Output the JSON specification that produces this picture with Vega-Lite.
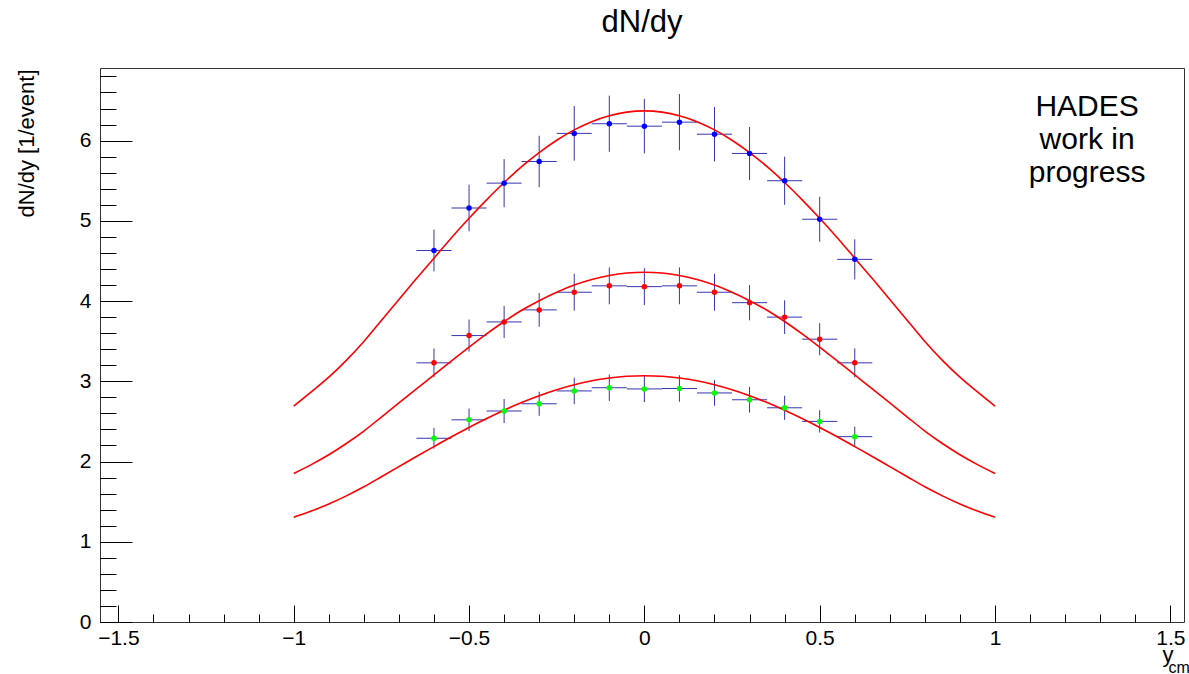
{
  "$schema": "https://vega.github.io/schema/vega-lite/v6.json",
  "width": 1084,
  "height": 554,
  "autosize": "none",
  "padding": {"left": 100, "top": 68, "right": 5, "bottom": 52},
  "background": "white",
  "config": {
    "view": {"stroke": "#333", "strokeWidth": 1},
    "axis": {"grid": false, "domain": false, "labelFont": "Liberation Sans", "titleFont": "Liberation Sans", "labelColor": "black", "titleColor": "black", "tickColor": "black", "tickWidth": 1, "titleFontWeight": "normal", "labelFlush": false, "labelOverlap": false}
  },
  "title": {"text": "dN/dy", "fontSize": 31, "font": "Liberation Sans", "fontWeight": "normal", "color": "black", "offset": 5, "frame": "group", "anchor": "middle", "baseline": "alphabetic"},
  "datasets": {
    "pts": [
      {"s": "blue", "x": -0.6, "y": 4.63, "lo": 4.37, "hi": 4.89, "xl": -0.65, "xh": -0.55},
      {"s": "blue", "x": -0.5, "y": 5.16, "lo": 4.87, "hi": 5.45, "xl": -0.55, "xh": -0.45},
      {"s": "blue", "x": -0.4, "y": 5.47, "lo": 5.17, "hi": 5.77, "xl": -0.45, "xh": -0.35},
      {"s": "blue", "x": -0.3, "y": 5.74, "lo": 5.42, "hi": 6.06, "xl": -0.35, "xh": -0.25},
      {"s": "blue", "x": -0.2, "y": 6.09, "lo": 5.75, "hi": 6.43, "xl": -0.25, "xh": -0.15},
      {"s": "blue", "x": -0.1, "y": 6.21, "lo": 5.86, "hi": 6.56, "xl": -0.15, "xh": -0.05},
      {"s": "blue", "x": 0.0, "y": 6.18, "lo": 5.84, "hi": 6.52, "xl": -0.05, "xh": 0.05},
      {"s": "blue", "x": 0.1, "y": 6.23, "lo": 5.88, "hi": 6.58, "xl": 0.05, "xh": 0.15},
      {"s": "blue", "x": 0.2, "y": 6.08, "lo": 5.74, "hi": 6.42, "xl": 0.15, "xh": 0.25},
      {"s": "blue", "x": 0.3, "y": 5.84, "lo": 5.51, "hi": 6.17, "xl": 0.25, "xh": 0.35},
      {"s": "blue", "x": 0.4, "y": 5.5, "lo": 5.2, "hi": 5.8, "xl": 0.35, "xh": 0.45},
      {"s": "blue", "x": 0.5, "y": 5.02, "lo": 4.74, "hi": 5.3, "xl": 0.45, "xh": 0.55},
      {"s": "blue", "x": 0.6, "y": 4.52, "lo": 4.27, "hi": 4.77, "xl": 0.55, "xh": 0.65},
      {"s": "red", "x": -0.6, "y": 3.23, "lo": 3.05, "hi": 3.41, "xl": -0.65, "xh": -0.55},
      {"s": "red", "x": -0.5, "y": 3.57, "lo": 3.37, "hi": 3.77, "xl": -0.55, "xh": -0.45},
      {"s": "red", "x": -0.4, "y": 3.74, "lo": 3.54, "hi": 3.94, "xl": -0.45, "xh": -0.35},
      {"s": "red", "x": -0.3, "y": 3.89, "lo": 3.68, "hi": 4.1, "xl": -0.35, "xh": -0.25},
      {"s": "red", "x": -0.2, "y": 4.11, "lo": 3.88, "hi": 4.34, "xl": -0.25, "xh": -0.15},
      {"s": "red", "x": -0.1, "y": 4.19, "lo": 3.96, "hi": 4.42, "xl": -0.15, "xh": -0.05},
      {"s": "red", "x": 0.0, "y": 4.18, "lo": 3.95, "hi": 4.41, "xl": -0.05, "xh": 0.05},
      {"s": "red", "x": 0.1, "y": 4.19, "lo": 3.96, "hi": 4.42, "xl": 0.05, "xh": 0.15},
      {"s": "red", "x": 0.2, "y": 4.11, "lo": 3.88, "hi": 4.34, "xl": 0.15, "xh": 0.25},
      {"s": "red", "x": 0.3, "y": 3.98, "lo": 3.76, "hi": 4.2, "xl": 0.25, "xh": 0.35},
      {"s": "red", "x": 0.4, "y": 3.8, "lo": 3.59, "hi": 4.01, "xl": 0.35, "xh": 0.45},
      {"s": "red", "x": 0.5, "y": 3.525, "lo": 3.325, "hi": 3.725, "xl": 0.45, "xh": 0.55},
      {"s": "red", "x": 0.6, "y": 3.23, "lo": 3.05, "hi": 3.41, "xl": 0.55, "xh": 0.65},
      {"s": "green", "x": -0.6, "y": 2.29, "lo": 2.16, "hi": 2.42, "xl": -0.65, "xh": -0.55},
      {"s": "green", "x": -0.5, "y": 2.52, "lo": 2.38, "hi": 2.66, "xl": -0.55, "xh": -0.45},
      {"s": "green", "x": -0.4, "y": 2.63, "lo": 2.48, "hi": 2.78, "xl": -0.45, "xh": -0.35},
      {"s": "green", "x": -0.3, "y": 2.72, "lo": 2.57, "hi": 2.87, "xl": -0.35, "xh": -0.25},
      {"s": "green", "x": -0.2, "y": 2.88, "lo": 2.715, "hi": 3.045, "xl": -0.25, "xh": -0.15},
      {"s": "green", "x": -0.1, "y": 2.92, "lo": 2.755, "hi": 3.085, "xl": -0.15, "xh": -0.05},
      {"s": "green", "x": 0.0, "y": 2.905, "lo": 2.74, "hi": 3.07, "xl": -0.05, "xh": 0.05},
      {"s": "green", "x": 0.1, "y": 2.91, "lo": 2.745, "hi": 3.075, "xl": 0.05, "xh": 0.15},
      {"s": "green", "x": 0.2, "y": 2.855, "lo": 2.695, "hi": 3.015, "xl": 0.15, "xh": 0.25},
      {"s": "green", "x": 0.3, "y": 2.77, "lo": 2.61, "hi": 2.93, "xl": 0.25, "xh": 0.35},
      {"s": "green", "x": 0.4, "y": 2.67, "lo": 2.52, "hi": 2.82, "xl": 0.35, "xh": 0.45},
      {"s": "green", "x": 0.5, "y": 2.5, "lo": 2.36, "hi": 2.64, "xl": 0.45, "xh": 0.55},
      {"s": "green", "x": 0.6, "y": 2.31, "lo": 2.185, "hi": 2.435, "xl": 0.55, "xh": 0.65}
    ],
    "fit": [
      {"c": "t", "x": -1.0, "y": 2.69}, {"c": "t", "x": -0.95, "y": 2.867}, {"c": "t", "x": -0.9, "y": 3.051}, {"c": "t", "x": -0.85, "y": 3.261}, {"c": "t", "x": -0.8, "y": 3.497}, {"c": "t", "x": -0.75, "y": 3.758}, {"c": "t", "x": -0.7, "y": 4.019}, {"c": "t", "x": -0.65, "y": 4.281}, {"c": "t", "x": -0.6, "y": 4.535}, {"c": "t", "x": -0.55, "y": 4.79}, {"c": "t", "x": -0.5, "y": 5.032}, {"c": "t", "x": -0.45, "y": 5.262}, {"c": "t", "x": -0.4, "y": 5.478}, {"c": "t", "x": -0.35, "y": 5.676}, {"c": "t", "x": -0.3, "y": 5.851}, {"c": "t", "x": -0.25, "y": 6.005}, {"c": "t", "x": -0.2, "y": 6.134}, {"c": "t", "x": -0.15, "y": 6.236}, {"c": "t", "x": -0.1, "y": 6.31}, {"c": "t", "x": -0.05, "y": 6.355}, {"c": "t", "x": 0.0, "y": 6.37},
      {"c": "t", "x": 0.05, "y": 6.355}, {"c": "t", "x": 0.1, "y": 6.31}, {"c": "t", "x": 0.15, "y": 6.236}, {"c": "t", "x": 0.2, "y": 6.134}, {"c": "t", "x": 0.25, "y": 6.005}, {"c": "t", "x": 0.3, "y": 5.851}, {"c": "t", "x": 0.35, "y": 5.676}, {"c": "t", "x": 0.4, "y": 5.478}, {"c": "t", "x": 0.45, "y": 5.262}, {"c": "t", "x": 0.5, "y": 5.032}, {"c": "t", "x": 0.55, "y": 4.79}, {"c": "t", "x": 0.6, "y": 4.535}, {"c": "t", "x": 0.65, "y": 4.281}, {"c": "t", "x": 0.7, "y": 4.019}, {"c": "t", "x": 0.75, "y": 3.758}, {"c": "t", "x": 0.8, "y": 3.497}, {"c": "t", "x": 0.85, "y": 3.261}, {"c": "t", "x": 0.9, "y": 3.051}, {"c": "t", "x": 0.95, "y": 2.867}, {"c": "t", "x": 1.0, "y": 2.69},
      {"c": "m", "x": -1.0, "y": 1.852}, {"c": "m", "x": -0.95, "y": 1.962}, {"c": "m", "x": -0.9, "y": 2.085}, {"c": "m", "x": -0.85, "y": 2.225}, {"c": "m", "x": -0.8, "y": 2.38}, {"c": "m", "x": -0.75, "y": 2.555}, {"c": "m", "x": -0.7, "y": 2.73}, {"c": "m", "x": -0.65, "y": 2.905}, {"c": "m", "x": -0.6, "y": 3.08}, {"c": "m", "x": -0.55, "y": 3.255}, {"c": "m", "x": -0.5, "y": 3.425}, {"c": "m", "x": -0.45, "y": 3.59}, {"c": "m", "x": -0.4, "y": 3.745}, {"c": "m", "x": -0.35, "y": 3.885}, {"c": "m", "x": -0.3, "y": 4.005}, {"c": "m", "x": -0.25, "y": 4.11}, {"c": "m", "x": -0.2, "y": 4.199}, {"c": "m", "x": -0.15, "y": 4.268}, {"c": "m", "x": -0.1, "y": 4.319}, {"c": "m", "x": -0.05, "y": 4.35}, {"c": "m", "x": 0.0, "y": 4.36},
      {"c": "m", "x": 0.05, "y": 4.35}, {"c": "m", "x": 0.1, "y": 4.319}, {"c": "m", "x": 0.15, "y": 4.268}, {"c": "m", "x": 0.2, "y": 4.199}, {"c": "m", "x": 0.25, "y": 4.11}, {"c": "m", "x": 0.3, "y": 4.005}, {"c": "m", "x": 0.35, "y": 3.885}, {"c": "m", "x": 0.4, "y": 3.745}, {"c": "m", "x": 0.45, "y": 3.59}, {"c": "m", "x": 0.5, "y": 3.425}, {"c": "m", "x": 0.55, "y": 3.255}, {"c": "m", "x": 0.6, "y": 3.08}, {"c": "m", "x": 0.65, "y": 2.905}, {"c": "m", "x": 0.7, "y": 2.73}, {"c": "m", "x": 0.75, "y": 2.555}, {"c": "m", "x": 0.8, "y": 2.38}, {"c": "m", "x": 0.85, "y": 2.225}, {"c": "m", "x": 0.9, "y": 2.085}, {"c": "m", "x": 0.95, "y": 1.962}, {"c": "m", "x": 1.0, "y": 1.852},
      {"c": "b", "x": -1.0, "y": 1.305}, {"c": "b", "x": -0.95, "y": 1.382}, {"c": "b", "x": -0.9, "y": 1.471}, {"c": "b", "x": -0.85, "y": 1.572}, {"c": "b", "x": -0.8, "y": 1.685}, {"c": "b", "x": -0.75, "y": 1.811}, {"c": "b", "x": -0.7, "y": 1.937}, {"c": "b", "x": -0.65, "y": 2.063}, {"c": "b", "x": -0.6, "y": 2.186}, {"c": "b", "x": -0.55, "y": 2.309}, {"c": "b", "x": -0.5, "y": 2.425}, {"c": "b", "x": -0.45, "y": 2.536}, {"c": "b", "x": -0.4, "y": 2.64}, {"c": "b", "x": -0.35, "y": 2.735}, {"c": "b", "x": -0.3, "y": 2.82}, {"c": "b", "x": -0.25, "y": 2.894}, {"c": "b", "x": -0.2, "y": 2.956}, {"c": "b", "x": -0.15, "y": 3.006}, {"c": "b", "x": -0.1, "y": 3.041}, {"c": "b", "x": -0.05, "y": 3.063}, {"c": "b", "x": 0.0, "y": 3.07},
      {"c": "b", "x": 0.05, "y": 3.063}, {"c": "b", "x": 0.1, "y": 3.041}, {"c": "b", "x": 0.15, "y": 3.006}, {"c": "b", "x": 0.2, "y": 2.956}, {"c": "b", "x": 0.25, "y": 2.894}, {"c": "b", "x": 0.3, "y": 2.82}, {"c": "b", "x": 0.35, "y": 2.735}, {"c": "b", "x": 0.4, "y": 2.64}, {"c": "b", "x": 0.45, "y": 2.536}, {"c": "b", "x": 0.5, "y": 2.425}, {"c": "b", "x": 0.55, "y": 2.309}, {"c": "b", "x": 0.6, "y": 2.186}, {"c": "b", "x": 0.65, "y": 2.063}, {"c": "b", "x": 0.7, "y": 1.937}, {"c": "b", "x": 0.75, "y": 1.811}, {"c": "b", "x": 0.8, "y": 1.685}, {"c": "b", "x": 0.85, "y": 1.572}, {"c": "b", "x": 0.9, "y": 1.471}, {"c": "b", "x": 0.95, "y": 1.382}, {"c": "b", "x": 1.0, "y": 1.305}
    ],
    "note": [{"label": "HADES\nwork in\nprogress", "x": 1.2627, "y": 6.303}]
  },
  "resolve": {"axis": {"x": "independent", "y": "independent"}},
  "layer": [
    {
      "data": {"name": "pts"},
      "mark": {"type": "rule", "color": "#3535b0", "strokeWidth": 1},
      "encoding": {
        "x": {"field": "xl", "type": "quantitative", "scale": {"domain": [-1.5525, 1.539], "nice": false, "zero": false},
              "axis": {"orient": "bottom", "values": [-1.5, -1, -0.5, 0, 0.5, 1, 1.5], "labels": false, "ticks": true, "tickSize": 17, "offset": -17, "title": null}},
        "x2": {"field": "xh"},
        "y": {"field": "y", "type": "quantitative", "scale": {"domain": [0, 6.905], "nice": false, "zero": false},
              "axis": {"orient": "left", "values": [0, 1, 2, 3, 4, 5, 6], "labels": false, "ticks": true, "tickSize": 32, "offset": -32, "title": null}}
      }
    },
    {
      "data": {"name": "pts"},
      "mark": {"type": "rule", "color": "#3535b0", "strokeWidth": 1},
      "encoding": {
        "x": {"field": "x", "type": "quantitative",
              "axis": {"orient": "bottom", "values": [-1.5, -1.4, -1.3, -1.2, -1.1, -1, -0.9, -0.8, -0.7, -0.6, -0.5, -0.4, -0.3, -0.2, -0.1, 0, 0.1, 0.2, 0.3, 0.4, 0.5, 0.6, 0.7, 0.8, 0.9, 1, 1.1, 1.2, 1.3, 1.4, 1.5], "labels": false, "ticks": true, "tickSize": 8, "offset": -8, "title": null}},
        "y": {"field": "lo", "type": "quantitative",
              "axis": {"orient": "left", "values": [0, 0.2, 0.4, 0.6, 0.8, 1, 1.2, 1.4, 1.6, 1.8, 2, 2.2, 2.4, 2.6, 2.8, 3, 3.2, 3.4, 3.6, 3.8, 4, 4.2, 4.4, 4.6, 4.8, 5, 5.2, 5.4, 5.6, 5.8, 6, 6.2, 6.4, 6.6, 6.8], "labels": false, "ticks": true, "tickSize": 16, "offset": -16, "title": null}},
        "y2": {"field": "hi"}
      }
    },
    {
      "data": {"name": "fit"},
      "mark": {"type": "line", "color": "#ff0000", "strokeWidth": 1.6, "interpolate": "monotone"},
      "encoding": {
        "x": {"field": "x", "type": "quantitative",
              "axis": {"orient": "bottom", "values": [-1.5, -1, -0.5, 0, 0.5, 1, 1.5], "format": "~g", "ticks": false, "labelFontSize": 21, "labelPadding": 5,
                       "title": "y", "titleFontSize": 22, "titleX": 1073, "titleY": 39.5, "titleAlign": "right", "titleBaseline": "alphabetic", "titleAngle": 0}},
        "y": {"field": "y", "type": "quantitative",
              "axis": {"orient": "left", "values": [0, 1, 2, 3, 4, 5, 6], "format": "~g", "ticks": false, "labelFontSize": 21, "labelPadding": 9,
                       "title": "dN/dy [1/event]", "titleFontSize": 22, "titleX": -67, "titleY": 1, "titleAlign": "right", "titleBaseline": "alphabetic", "titleAngle": -90}},
        "detail": {"field": "c"}
      }
    },
    {
      "data": {"name": "pts"},
      "mark": {"type": "point", "filled": true, "shape": "circle", "size": 30, "opacity": 1},
      "encoding": {
        "x": {"field": "x", "type": "quantitative",
              "axis": {"orient": "bottom", "labels": false, "ticks": false, "title": "cm", "titleFontSize": 16, "titleX": 1068, "titleY": 50, "titleAlign": "left", "titleBaseline": "alphabetic", "titleAngle": 0}},
        "y": {"field": "y", "type": "quantitative", "axis": null},
        "color": {"field": "s", "type": "nominal", "scale": {"domain": ["blue", "red", "green"], "range": ["#0000ff", "#ff0000", "#00ff00"]}, "legend": null}
      }
    },
    {
      "data": {"name": "note"},
      "mark": {"type": "text", "lineBreak": "\n", "font": "Liberation Sans", "fontSize": 30, "lineHeight": 33, "align": "center", "baseline": "alphabetic", "color": "black"},
      "encoding": {
        "x": {"field": "x", "type": "quantitative", "axis": null},
        "y": {"field": "y", "type": "quantitative", "axis": null},
        "text": {"field": "label"}
      }
    }
  ]
}
